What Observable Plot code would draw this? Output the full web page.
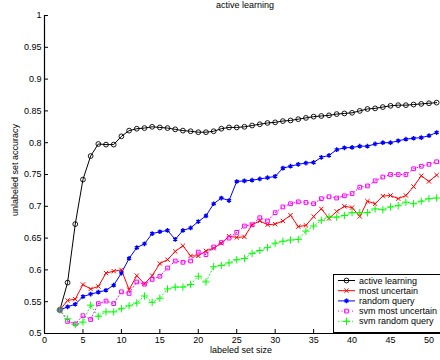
<!DOCTYPE html>
<html><head><meta charset="utf-8">
<script src="https://cdn.jsdelivr.net/npm/d3@7"></script>
<script src="https://cdn.jsdelivr.net/npm/@observablehq/plot@0.6"></script>
<style>
body{margin:0;background:#fff}
#chart{width:440px;height:360px}
</style>
</head><body><div id="chart"></div>
<script>
const labeledSetSize = [2,3,4,5,6,7,8,9,10,11,12,13,14,15,16,17,18,19,20,21,22,23,24,25,26,27,28,29,30,31,32,33,34,35,36,37,38,39,40,41,42,43,44,45,46,47,48,49,50,51];

const activeLearning = [0.537,0.580,0.672,0.742,0.779,0.798,0.797,0.797,0.810,0.819,0.822,0.823,0.825,0.824,0.823,0.821,0.819,0.818,0.8165,0.8165,0.818,0.822,0.824,0.824,0.825,0.827,0.829,0.831,0.832,0.834,0.835,0.837,0.839,0.841,0.842,0.843,0.845,0.846,0.847,0.850,0.853,0.854,0.856,0.858,0.859,0.859,0.860,0.861,0.862,0.863];
const mostUncertain = [0.537,0.552,0.554,0.577,0.570,0.574,0.595,0.598,0.600,0.569,0.591,0.578,0.591,0.610,0.616,0.629,0.638,0.622,0.622,0.630,0.634,0.642,0.653,0.651,0.652,0.671,0.677,0.671,0.672,0.677,0.686,0.668,0.670,0.684,0.696,0.681,0.692,0.700,0.698,0.684,0.708,0.704,0.716,0.717,0.712,0.717,0.731,0.748,0.739,0.749];
const randomQuery = [0.537,0.542,0.546,0.558,0.562,0.565,0.568,0.576,0.595,0.618,0.635,0.641,0.657,0.660,0.662,0.648,0.662,0.666,0.676,0.685,0.704,0.713,0.709,0.739,0.740,0.741,0.743,0.745,0.747,0.760,0.763,0.766,0.768,0.769,0.777,0.780,0.789,0.792,0.7925,0.7945,0.7945,0.798,0.800,0.800,0.803,0.8055,0.807,0.808,0.811,0.816];
const svmMostUncertain = [0.537,0.519,0.515,0.528,0.522,0.547,0.551,0.547,0.5655,0.563,0.581,0.5775,0.585,0.590,0.603,0.614,0.612,0.614,0.628,0.624,0.636,0.643,0.650,0.659,0.669,0.671,0.682,0.677,0.690,0.699,0.704,0.707,0.706,0.704,0.712,0.715,0.713,0.7165,0.720,0.730,0.732,0.740,0.746,0.750,0.750,0.750,0.759,0.763,0.766,0.770];
const svmRandomQuery = [0.537,0.523,0.514,0.518,0.5445,0.527,0.534,0.534,0.539,0.5435,0.548,0.559,0.549,0.5555,0.570,0.573,0.573,0.577,0.590,0.581,0.605,0.607,0.611,0.616,0.618,0.626,0.6305,0.635,0.642,0.645,0.647,0.648,0.661,0.669,0.678,0.683,0.683,0.6855,0.690,0.690,0.690,0.696,0.6945,0.699,0.701,0.7065,0.704,0.708,0.712,0.713];

const seriesNames = ["active learning","most uncertain","random query","svm most uncertain","svm random query"];
const seriesValues = [activeLearning, mostUncertain, randomQuery, svmMostUncertain, svmRandomQuery];
const seriesColors = ["#000000","#ff0000","#0000ff","#ff00ff","#00ff00"];
const seriesSymbols = ["circle","times","asterisk","square","plus"];
const seriesDash = [null, null, null, "1,2.5", "1,2.5"];
const seriesR = [2.4, 2.1, 2.2, 2.1, 2.5];
const seriesSW = [0.9, 1, 1.4, 1, 1];

const xTicks = [0,5,10,15,20,25,30,35,40,45,50];
const yTicks = [0.5,0.55,0.6,0.65,0.7,0.75,0.8,0.85,0.9,0.95,1];
const titleText = "active learning";
const xLabel = "labeled set size";
const yLabel = "unlabeled set accuracy";

const rows = [];
seriesValues.forEach((vals, i) => vals.forEach((v, j) => rows.push({series: seriesNames[i], size: labeledSetSize[j], acc: v})));

const W = 440, H = 360, ML = 44, MR = 0, MT = 15, MB = 27;
const font = "'Liberation Sans', Arial, Helvetica, sans-serif";

const marks = [
  Plot.axisX({ticks: xTicks, tickSize: 0, tickPadding: 3, tickFormat: d => String(d), label: null, fill: "#000"}),
  Plot.axisY({ticks: yTicks, tickSize: 0, tickPadding: 3, tickFormat: d => String(+d.toFixed(2)), label: null, fill: "#000"}),
  Plot.tickX(xTicks, {x: d => d, insetTop: (H - MT - MB) - 4, stroke: "#000", strokeWidth: 1}),
  Plot.tickY(yTicks, {y: d => d, insetRight: (W - ML - MR) - 4, stroke: "#000", strokeWidth: 1})
];
seriesNames.forEach((name, i) => {
  const data = rows.filter(d => d.series === name);
  marks.push(Plot.line(data, {x: "size", y: "acc", stroke: seriesColors[i], strokeWidth: 1, strokeDasharray: seriesDash[i]}));
});
seriesNames.forEach((name, i) => {
  const data = rows.filter(d => d.series === name);
  marks.push(Plot.dot(data, {x: "size", y: "acc", symbol: seriesSymbols[i], r: seriesR[i], stroke: seriesColors[i], fill: "none", strokeWidth: seriesSW[i]}));
});
marks.push(Plot.ruleX([0], {stroke: "#000", strokeWidth: 1.2}));
marks.push(Plot.ruleY([0.5], {stroke: "#000", strokeWidth: 1.2}));

const chart = Plot.plot({
  width: W, height: H,
  marginLeft: ML, marginRight: MR, marginTop: MT, marginBottom: MB,
  style: {fontFamily: font, fontSize: "9px", background: "#fff", color: "#000", overflow: "visible"},
  x: {domain: [0, 51.5]},
  y: {domain: [0.5, 1]},
  marks
});
document.getElementById("chart").appendChild(chart);

const svg = d3.select(chart);
const tf = {"font-family": font, "font-size": "9px", fill: "#000"};
function addText(parent, txt, x, y, anchor, rot) {
  const t = parent.append("text").text(txt).attr("text-anchor", anchor);
  for (const k in tf) t.attr(k, tf[k]);
  if (rot) t.attr("transform", `translate(${x},${y}) rotate(${rot})`);
  else t.attr("x", x).attr("y", y);
  return t;
}
addText(svg, titleText, 245, 8, "middle");
addText(svg, xLabel, 241, 353, "middle");
addText(svg, yLabel, 18, 170, "middle", -90);

// legend
const lg = svg.append("g");
lg.append("rect").attr("x", 333.5).attr("y", 274.5).attr("width", 110).attr("height", 58)
  .attr("fill", "#fff").attr("stroke", "#000").attr("stroke-width", 1);
const symMap = {circle: d3.symbolCircle, times: d3.symbolTimes, asterisk: d3.symbolAsterisk, square: d3.symbolSquare, plus: d3.symbolPlus};
seriesNames.forEach((name, i) => {
  const y = 280.5 + i * 10.2;
  lg.append("line").attr("x1", 338).attr("x2", 355).attr("y1", y).attr("y2", y)
    .attr("stroke", seriesColors[i]).attr("stroke-width", 1).attr("stroke-dasharray", seriesDash[i]);
  lg.append("path").attr("d", d3.symbol(symMap[seriesSymbols[i]], seriesR[i] * seriesR[i] * Math.PI)())
    .attr("transform", `translate(346.5,${y})`).attr("fill", "none").attr("stroke", seriesColors[i]).attr("stroke-width", seriesSW[i]);
  addText(lg, name, 359, y + 3, "start");
});
</script>
</body></html>
